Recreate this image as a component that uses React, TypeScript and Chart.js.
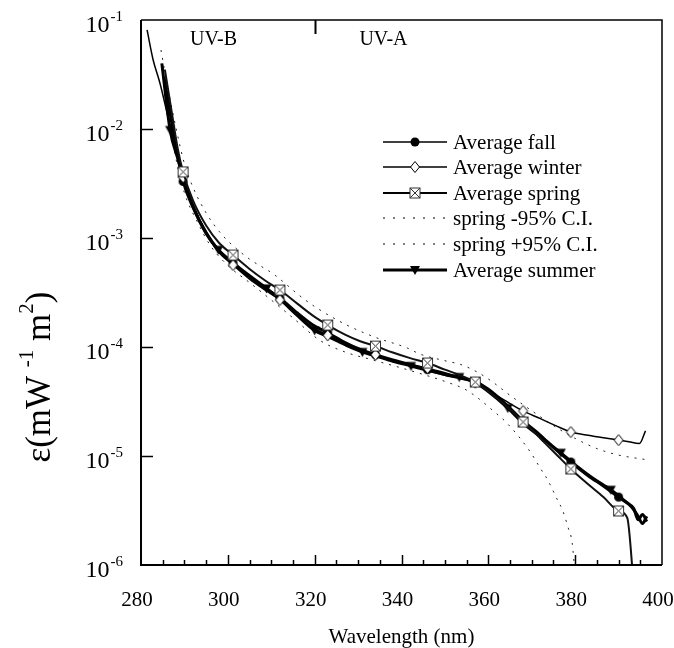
import React, { useEffect, useRef } from 'react';
import { Chart, registerables } from 'chart.js';

Chart.register(...registerables);

// ---------- axis definitions ----------
const X_MIN = 280;
const X_MAX = 400;
const X_MAJOR_STEP = 20;
const X_MINOR_STEP = 5;
const Y_MIN = 1e-6;
const Y_MAX = 1e-1;
const yDecades = [1e-6, 1e-5, 1e-4, 1e-3, 1e-2, 1e-1];
const UV_DIVIDER = 320;

// ---------- data ----------
const springWl = [285.5, 287, 288.5, 289.7, 292, 295, 298, 301.2, 305, 308.5, 312, 316, 319.5, 323, 327, 330.5, 334, 338, 342, 346, 350, 353.5, 357, 360, 364, 368, 372, 375.5, 379, 383, 386.5, 390, 392, 393.1, 393.6];
const springVal = [3.5e-2, 1.5e-2, 6.5e-3, 4.04e-3, 2.2e-3, 1.3e-3, 9.0e-4, 6.98e-4, 5.2e-4, 4.1e-4, 3.33e-4, 2.5e-4, 1.95e-4, 1.59e-4, 1.3e-4, 1.13e-4, 1.02e-4, 8.9e-5, 7.9e-5, 7.13e-5, 6.2e-5, 5.5e-5, 4.77e-5, 3.9e-5, 2.9e-5, 2.05e-5, 1.45e-5, 1.05e-5, 7.6e-6, 5.5e-6, 4.2e-6, 3.13e-6, 2.7e-6, 1.0e-6, 5e-7];
const springMarkers = [289.7, 301.2, 312, 323, 334, 346, 357, 368, 379, 390];

const fallWl = [285.3, 287, 288.5, 289.7, 292, 295, 298, 301.2, 305, 308.5, 312, 316, 319.5, 323, 327, 330.5, 334, 338, 342, 346, 350, 353.5, 357, 360, 364, 368, 372, 375.5, 379, 383, 386.5, 390, 392, 393.5, 394.5, 395.5, 396.5];
const fallVal = [3.0e-2, 1.2e-2, 5.6e-3, 3.3e-3, 1.9e-3, 1.12e-3, 7.6e-4, 5.9e-4, 4.4e-4, 3.5e-4, 2.8e-4, 2.05e-4, 1.6e-4, 1.35e-4, 1.1e-4, 9.5e-5, 8.5e-5, 7.6e-5, 6.9e-5, 6.2e-5, 5.6e-5, 5.2e-5, 4.8e-5, 4.1e-5, 3.0e-5, 2.1e-5, 1.55e-5, 1.15e-5, 8.8e-6, 6.6e-6, 5.3e-6, 4.2e-6, 3.7e-6, 3.3e-6, 2.6e-6, 2.9e-6, 2.5e-6];
const fallMarkers = [289.7, 301.2, 312, 323, 334, 346, 357, 368, 379, 390];

const winterWl = [281.4, 282.8, 284.4, 286.3, 288.3, 289.7, 292, 295, 298, 301.2, 305, 308.5, 312, 316, 319.5, 323, 327, 330.5, 334, 338, 342, 346, 350, 353.5, 357, 360, 364, 368, 372, 375.5, 379, 383, 386.5, 390, 392, 394.8, 396.2];
const winterVal = [8.1e-2, 4.3e-2, 2.6e-2, 1.25e-2, 6.0e-3, 3.6e-3, 2.0e-3, 1.12e-3, 7.3e-4, 5.65e-4, 4.2e-4, 3.35e-4, 2.7e-4, 1.95e-4, 1.52e-4, 1.28e-4, 1.06e-4, 9.3e-5, 8.5e-5, 7.6e-5, 6.9e-5, 6.4e-5, 5.8e-5, 5.3e-5, 4.7e-5, 4.0e-5, 3.2e-5, 2.59e-5, 2.2e-5, 1.9e-5, 1.66e-5, 1.55e-5, 1.47e-5, 1.40e-5, 1.36e-5, 1.3e-5, 1.7e-5];
const winterMarkers = [289.7, 301.2, 312, 323, 334, 346, 357, 368, 379, 390];

const summerWl = [284.8, 286.7, 288.5, 290, 292, 295, 297.8, 301, 305, 308.9, 312, 316, 320, 323, 327, 331, 334, 338, 342.2, 346, 350, 353.3, 357, 360, 364.5, 368, 372, 376.7, 380, 384, 388.2, 391, 393, 394.5, 395.5, 396.5];
const summerVal = [4.0e-2, 9.8e-3, 5.3e-3, 3.3e-3, 1.95e-3, 1.1e-3, 7.8e-4, 6.0e-4, 4.5e-4, 3.45e-4, 2.75e-4, 1.95e-4, 1.42e-4, 1.25e-4, 1.05e-4, 9.0e-5, 8.3e-5, 7.4e-5, 6.7e-5, 6.1e-5, 5.6e-5, 5.3e-5, 4.7e-5, 3.9e-5, 2.75e-5, 2.0e-5, 1.5e-5, 1.07e-5, 8.3e-6, 6.3e-6, 4.9e-6, 4.0e-6, 3.4e-6, 2.8e-6, 2.4e-6, 2.8e-6];
const summerMarkers = [286.7, 297.8, 308.9, 320, 331, 342.2, 353.3, 364.5, 376.7, 388.2];

const ciHiWl = [284.6, 286, 288, 290, 292, 295, 298, 300.5, 305, 310.4, 317.3, 320.8, 327.4, 333.9, 341.3, 344.3, 350.5, 353.7, 357.4, 360.6, 365, 370, 375, 380, 385, 390, 396];
const ciHiVal = [5.3e-2, 2.6e-2, 1.05e-2, 4.8e-3, 2.9e-3, 1.7e-3, 1.15e-3, 9.0e-4, 6.4e-4, 4.7e-4, 2.8e-4, 2.24e-4, 1.59e-4, 1.23e-4, 9.8e-5, 8.6e-5, 7.4e-5, 6.9e-5, 5.9e-5, 4.9e-5, 3.6e-5, 2.6e-5, 1.9e-5, 1.45e-5, 1.17e-5, 1.02e-5, 9.3e-6];

const ciLoWl = [286, 288, 290, 293, 296, 300, 305, 310, 315, 321.2, 327, 333.4, 341.3, 351.2, 354.6, 357.6, 361.1, 364.3, 369.6, 371.9, 373.7, 375.6, 377.2, 378.3, 379.3, 380];
const ciLoVal = [2.0e-2, 5.5e-3, 2.6e-3, 1.4e-3, 8.5e-4, 5.6e-4, 3.9e-4, 2.7e-4, 1.85e-4, 1.15e-4, 9.0e-5, 7.6e-5, 6.2e-5, 4.65e-5, 4.1e-5, 3.4e-5, 2.6e-5, 2.0e-5, 1.1e-5, 7.8e-6, 6.0e-6, 4.2e-6, 3.1e-6, 2.25e-6, 1.6e-6, 8e-7];

const legendLabels = ['Average fall', 'Average winter', 'Average spring', 'spring -95% C.I.', 'spring +95% C.I.', 'Average summer'];

const SERIF = '"Liberation Serif", "Times New Roman", Times, serif';

function drawMarker(g: CanvasRenderingContext2D, kind: string, x: number, y: number) {
  g.save();
  g.lineWidth = 1;
  g.strokeStyle = '#000';
  g.fillStyle = '#000';
  if (kind === 'circle') {
    g.beginPath();
    g.arc(x, y, 4.5, 0, Math.PI * 2);
    g.fill();
  } else if (kind === 'diamond') {
    g.beginPath();
    g.moveTo(x, y - 5.5);
    g.lineTo(x + 4.5, y);
    g.lineTo(x, y + 5.5);
    g.lineTo(x - 4.5, y);
    g.closePath();
    g.fillStyle = '#fff';
    g.fill();
    g.stroke();
  } else if (kind === 'xsquare') {
    const s = 5;
    g.fillStyle = '#fff';
    g.fillRect(x - s, y - s, 2 * s, 2 * s);
    g.strokeStyle = '#333';
    g.strokeRect(x - s, y - s, 2 * s, 2 * s);
    g.beginPath();
    g.moveTo(x - s, y - s);
    g.lineTo(x + s, y + s);
    g.moveTo(x + s, y - s);
    g.lineTo(x - s, y + s);
    g.stroke();
  } else if (kind === 'tri') {
    g.beginPath();
    g.moveTo(x - 5, y - 4);
    g.lineTo(x + 5, y - 4);
    g.lineTo(x, y + 5);
    g.closePath();
    g.fill();
  }
  g.restore();
}

function makeMarker(kind: string): HTMLCanvasElement {
  const c = document.createElement('canvas');
  c.width = 13;
  c.height = 13;
  const g = c.getContext('2d')!;
  drawMarker(g, kind, 6.5, 6.5);
  return c;
}

const pts = (wl: number[], val: number[]) => wl.map((x, i) => ({ x, y: val[i] }));

export default function App() {
  const ref = useRef<HTMLCanvasElement | null>(null);

  useEffect(() => {
    if (!ref.current) return;
    const mk = {
      circle: makeMarker('circle'),
      diamond: makeMarker('diamond'),
      xsquare: makeMarker('xsquare'),
      tri: makeMarker('tri'),
    };
    const radiusFor = (markers: number[]) => (ctx: any) => {
      const r = ctx.raw;
      return r && markers.includes(r.x) ? 6 : 0;
    };

    const legendItems = [
      { label: legendLabels[0], width: 1.5, dash: [] as number[], marker: 'circle' },
      { label: legendLabels[1], width: 1.5, dash: [] as number[], marker: 'diamond' },
      { label: legendLabels[2], width: 2, dash: [] as number[], marker: 'xsquare' },
      { label: legendLabels[3], width: 1, dash: [2, 8], marker: '' },
      { label: legendLabels[4], width: 1, dash: [2, 8], marker: '' },
      { label: legendLabels[5], width: 3, dash: [] as number[], marker: 'tri' },
    ];

    const decor = {
      id: 'decor',
      afterDraw(chart: any) {
        const { ctx, chartArea: a, scales } = chart;
        const xs = scales.x;
        const ys = scales.y;
        ctx.save();
        ctx.strokeStyle = '#000';
        ctx.fillStyle = '#000';
        // frame
        ctx.lineWidth = 2;
        ctx.beginPath();
        ctx.moveTo(a.left, a.top);
        ctx.lineTo(a.left, a.bottom);
        ctx.lineTo(a.right, a.bottom);
        ctx.stroke();
        ctx.lineWidth = 1.5;
        ctx.beginPath();
        ctx.moveTo(a.left, a.top);
        ctx.lineTo(a.right, a.top);
        ctx.lineTo(a.right, a.bottom);
        ctx.stroke();
        // x ticks (inward)
        ctx.lineWidth = 1.5;
        for (let v = X_MIN + X_MINOR_STEP; v < X_MAX; v += X_MINOR_STEP) {
          const px = Math.round(xs.getPixelForValue(v)) + 0.5;
          const len = v % X_MAJOR_STEP === 0 ? 10 : 5;
          ctx.beginPath();
          ctx.moveTo(px, a.bottom);
          ctx.lineTo(px, a.bottom - len);
          ctx.stroke();
        }
        // y ticks (inward)
        for (const t of ys.ticks) {
          const py = Math.round(ys.getPixelForValue(t.value)) + 0.5;
          if (t.value <= Y_MIN || t.value >= Y_MAX) continue;
          ctx.beginPath();
          ctx.moveTo(a.left, py);
          ctx.lineTo(a.left + 12, py);
          ctx.stroke();
        }
        // UV divider tick
        {
          const px = Math.round(xs.getPixelForValue(UV_DIVIDER)) + 0.5;
          ctx.lineWidth = 2;
          ctx.beginPath();
          ctx.moveTo(px, a.top);
          ctx.lineTo(px, a.top + 14);
          ctx.stroke();
        }
        // UV labels
        ctx.font = `20px ${SERIF}`;
        ctx.textBaseline = 'alphabetic';
        ctx.textAlign = 'left';
        ctx.fillText('UV-B', xs.getPixelForValue(291.3), a.top + 25);
        ctx.fillText('UV-A', xs.getPixelForValue(330.3), a.top + 25);

        // y tick labels 10^n
        for (const t of ys.ticks) {
          const py = ys.getPixelForValue(t.value);
          const e = Math.round(Math.log10(t.value));
          const expStr = String(e);
          ctx.font = `15px ${SERIF}`;
          ctx.textAlign = 'right';
          ctx.textBaseline = 'alphabetic';
          const expW = ctx.measureText(expStr).width;
          const right = 123;
          ctx.fillText(expStr, right, py + 1);
          ctx.font = `24px ${SERIF}`;
          ctx.fillText('10', right - expW - 1, py + 12);
        }

        // y title
        {
          const fsT = 35;
          const fsS = 21;
          const pieces = [
            { t: 'ε(mW', s: false },
            { t: ' ', s: false },
            { t: '-1', s: true },
            { t: ' m', s: false },
            { t: '2', s: true },
            { t: ')', s: false },
          ];
          ctx.save();
          ctx.translate(50, 377);
          ctx.rotate(-Math.PI / 2);
          ctx.textAlign = 'left';
          ctx.textBaseline = 'alphabetic';
          let total = 0;
          for (const p of pieces) {
            ctx.font = `${p.s ? fsS : fsT}px ${SERIF}`;
            total += ctx.measureText(p.t).width;
          }
          let x = -total / 2;
          for (const p of pieces) {
            ctx.font = `${p.s ? fsS : fsT}px ${SERIF}`;
            ctx.fillText(p.t, x, p.s ? -fsT * 0.5 : 0);
            x += ctx.measureText(p.t).width;
          }
          ctx.restore();
        }

        // legend
        {
          const x1 = 383, x2 = 447, xm = 415, xt = 453;
          const rows = [142, 167, 193, 218, 244, 270];
          legendItems.forEach((it, i) => {
            const y = rows[i];
            ctx.save();
            ctx.lineWidth = it.width;
            ctx.setLineDash(it.dash);
            ctx.strokeStyle = '#000';
            ctx.beginPath();
            ctx.moveTo(x1, y);
            ctx.lineTo(x2, y);
            ctx.stroke();
            ctx.restore();
            if (it.marker) drawMarker(ctx, it.marker, xm, y);
            ctx.font = `21px ${SERIF}`;
            ctx.fillStyle = '#000';
            ctx.textAlign = 'left';
            ctx.textBaseline = 'middle';
            ctx.fillText(it.label, xt, y + 1);
          });
        }
        ctx.restore();
      },
    };

    const common = {
      fill: false,
      cubicInterpolationMode: 'monotone' as const,
      borderColor: '#000',
      pointBackgroundColor: '#000',
      pointBorderColor: '#000',
      pointHoverRadius: 0,
    };

    const chart = new Chart(ref.current, {
      type: 'line',
      data: {
        datasets: [
          { ...common, label: legendLabels[2], data: pts(springWl, springVal), borderWidth: 2, borderColor: '#111', pointStyle: mk.xsquare as any, pointRadius: radiusFor(springMarkers) as any },
          { ...common, label: legendLabels[1], data: pts(winterWl, winterVal), borderWidth: 1.5, pointStyle: mk.diamond as any, pointRadius: radiusFor(winterMarkers) as any },
          { ...common, label: legendLabels[0], data: pts(fallWl, fallVal), borderWidth: 3, pointStyle: mk.circle as any, pointRadius: radiusFor(fallMarkers) as any },
          { ...common, label: legendLabels[5], data: pts(summerWl, summerVal), borderWidth: 3, pointStyle: mk.tri as any, pointRadius: radiusFor(summerMarkers) as any },
          { ...common, label: legendLabels[3], data: pts(ciLoWl, ciLoVal), borderWidth: 1, borderDash: [2, 6], borderColor: '#222', pointRadius: 0 },
          { ...common, label: legendLabels[4], data: pts(ciHiWl, ciHiVal), borderWidth: 1, borderDash: [2, 6], borderColor: '#222', pointRadius: 0 },
        ],
      },
      options: {
        animation: false,
        responsive: false,
        events: [],
        layout: { padding: { left: 0, top: 20, right: 12, bottom: 0 } },
        plugins: { legend: { display: false }, tooltip: { enabled: false } },
        scales: {
          x: {
            type: 'linear',
            min: X_MIN,
            max: X_MAX,
            grid: { display: false, drawTicks: false },
            border: { display: false },
            ticks: {
              stepSize: X_MAJOR_STEP,
              autoSkip: false,
              maxRotation: 0,
              padding: 23,
              labelOffset: -4,
              color: '#000',
              font: { family: SERIF, size: 21 },
            },
            title: {
              display: true,
              text: 'Wavelength (nm)',
              color: '#000',
              font: { family: SERIF, size: 21, lineHeight: 1 },
              padding: { top: 0, bottom: 0 },
            },
            afterFit: (s: any) => {
              s.height = 83;
              s.paddingLeft = 0;
              s.paddingRight = 0;
            },
          },
          y: {
            type: 'logarithmic',
            min: Y_MIN,
            max: Y_MAX,
            grid: { display: false, drawTicks: false },
            border: { display: false },
            ticks: { display: false },
            afterBuildTicks: (s: any) => {
              s.ticks = yDecades.map((v) => ({ value: v, major: true }));
            },
            afterFit: (s: any) => {
              s.width = 141;
            },
          },
        },
      },
      plugins: [decor],
    });
    return () => chart.destroy();
  }, []);

  return (
    <div style={{ position: 'absolute', left: 0, top: 0, width: 674, height: 648, background: '#fff' }}>
      <canvas ref={ref} width={674} height={648} style={{ display: 'block' }} />
    </div>
  );
}
